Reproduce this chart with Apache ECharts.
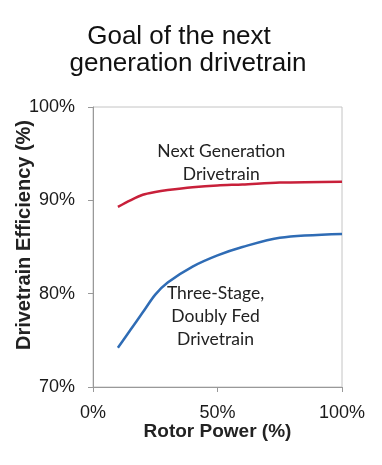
<!DOCTYPE html>
<html>
<head>
<meta charset="utf-8">
<script src="https://cdn.jsdelivr.net/npm/echarts@6/dist/echarts.min.js"></script>
<style>html,body{margin:0;padding:0;background:#fff;}#c{width:382px;height:465px;}</style>
</head>
<body>
<div id="c"></div>
<script>
var titleLines = ['Goal of the next', 'generation drivetrain'];
var xName = 'Rotor Power (%)';
var yName = 'Drivetrain Efficiency (%)';
var rotorPower = [10, 15, 20, 25, 30, 40, 50, 60, 75, 100];
var nextGen = [89.3, 90.0, 90.6, 90.9, 91.1, 91.4, 91.6, 91.7, 91.9, 92.0];
var threeStage = [74.2, 76.1, 78.0, 79.9, 81.2, 82.9, 84.1, 85.0, 86.0, 86.4];
var nextGenLabel = 'Next Generation\nDrivetrain';
var nextGenLabelAt = [51.5, 94.0];
var threeStageLabel = 'Three-Stage,\nDoubly Fed\nDrivetrain';
var threeStageLabelAt = [49.2, 77.6];

function pairs(xs, ys) { return xs.map(function (x, i) { return [x, ys[i]]; }); }

var chart = echarts.init(document.getElementById('c'), null, {renderer: 'canvas'});
var annFont = {fontFamily: 'Lato', fontSize: 17.5, color: '#222', lineHeight: 23};
var titleFont = {fontFamily: 'Liberation Sans', fontSize: 26, fontWeight: 'normal', color: '#111'};
chart.setOption({
  animation: false,
  backgroundColor: '#fff',
  title: [
    {text: titleLines[0], left: 174, top: 19, textAlign: 'center', textStyle: titleFont},
    {text: titleLines[1], left: 183, top: 46, textAlign: 'center', textStyle: titleFont}
  ],
  grid: {left: 93, right: 40, top: 107, bottom: 78, show: true, borderColor: '#c4c4c4', borderWidth: 1,
         containLabel: false, outerBoundsMode: 'none'},
  xAxis: {
    type: 'value', min: 0, max: 100, interval: 50,
    name: xName, nameLocation: 'middle', nameGap: 35, nameMoveOverlap: false,
    nameTextStyle: {fontFamily: 'Liberation Sans', fontSize: 19, fontWeight: 'bold', color: '#222'},
    axisLine: {lineStyle: {color: '#999'}},
    axisTick: {show: true, length: 5, lineStyle: {color: '#999'}},
    splitLine: {show: false},
    axisLabel: {formatter: '{value}%', fontFamily: 'Liberation Sans', fontSize: 18, color: '#1a1a1a', margin: 17}
  },
  yAxis: {
    type: 'value', min: 70, max: 100, interval: 10,
    name: yName, nameLocation: 'middle', nameGap: 59, nameMoveOverlap: false,
    nameTextStyle: {fontFamily: 'Liberation Sans', fontSize: 20, fontWeight: 'bold', color: '#222', padding: [0, 0, 0, 24]},
    axisLine: {show: true, lineStyle: {color: '#999'}},
    axisTick: {show: true, length: 5, lineStyle: {color: '#999'}},
    splitLine: {show: false},
    axisLabel: {formatter: '{value}%', fontFamily: 'Liberation Sans', fontSize: 18, color: '#1a1a1a', margin: 18}
  },
  series: [
    {
      type: 'line', data: pairs(rotorPower, nextGen), smooth: 0.3, symbol: 'none',
      lineStyle: {color: '#C8203A', width: 2.5},
      markPoint: {
        symbol: 'circle', symbolSize: 0, silent: true,
        label: Object.assign({show: true, position: 'inside', formatter: nextGenLabel}, annFont),
        data: [{coord: nextGenLabelAt}]
      }
    },
    {
      type: 'line', data: pairs(rotorPower, threeStage), smooth: 0.3, symbol: 'none',
      lineStyle: {color: '#2F6CB5', width: 2.5},
      markPoint: {
        symbol: 'circle', symbolSize: 0, silent: true,
        label: Object.assign({show: true, position: 'inside', formatter: threeStageLabel}, annFont),
        data: [{coord: threeStageLabelAt}]
      }
    }
  ]
});
</script>
</body>
</html>
